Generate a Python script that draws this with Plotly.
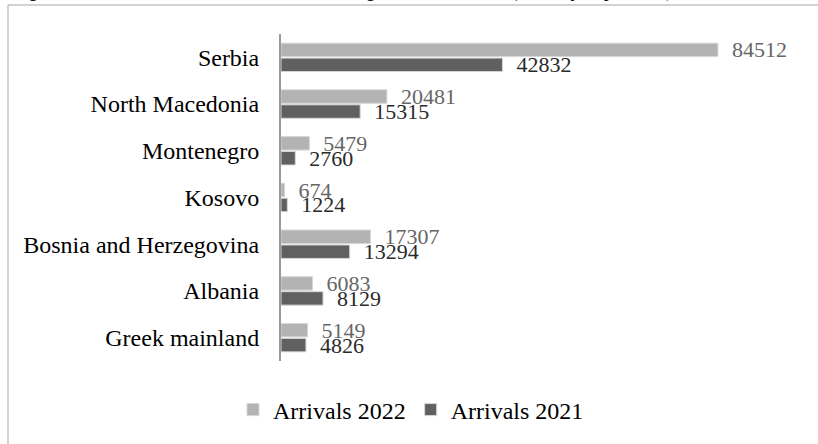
import plotly.graph_objects as go

countries = ["Serbia", "North Macedonia", "Montenegro", "Kosovo",
             "Bosnia and Herzegovina", "Albania", "Greek mainland"]
arrivals_2022 = [84512, 20481, 5479, 674, 17307, 6083, 5149]
arrivals_2021 = [42832, 15315, 2760, 1224, 13294, 8129, 4826]
series_names = ["Arrivals 2022", "Arrivals 2021"]
title_text = "Figure 5: Arrivals at the external borders along the Balkan route (January-September)"

W, H = 818, 444
L, R, T, B = 281, 20, 34, 83
pw, ph = W - L - R, H - T - B

def px_x(p):
    return (p - L) / pw

def px_y(p):
    return (H - B - p) / ph

font_family = "Liberation Serif, Times New Roman, serif"

fig = go.Figure()
fig.add_trace(go.Bar(
    y=countries, x=arrivals_2022, name=series_names[0], orientation="h",
    marker=dict(color="#b3b3b3", line=dict(color="#d6d6d6", width=1)),
    texttemplate="\u00a0\u00a0%{x:d}", textposition="outside",
    textfont=dict(family=font_family, size=22, color="#666666"),
    cliponaxis=False, constraintext="none",
))
fig.add_trace(go.Bar(
    y=countries, x=arrivals_2021, name=series_names[1], orientation="h",
    marker=dict(color="#606060", line=dict(color="#d6d6d6", width=1)),
    texttemplate="\u00a0\u00a0%{x:d}", textposition="outside",
    textfont=dict(family=font_family, size=22, color="#2a2a2a"),
    cliponaxis=False, constraintext="none",
))

fig.update_layout(
    width=W, height=H, autosize=False,
    margin=dict(l=L, r=R, t=T, b=B, pad=0),
    paper_bgcolor="white", plot_bgcolor="white",
    barmode="group", bargap=0.36, bargroupgap=0.1,
    font=dict(family=font_family, size=24, color="#000000"),
    showlegend=True,
    legend=dict(orientation="h", x=px_x(411), xanchor="center",
                y=px_y(410), yanchor="middle",
                font=dict(family=font_family, size=24, color="#000000"),
                bgcolor="rgba(0,0,0,0)", itemclick=False),
    xaxis=dict(range=[0, 100000], visible=False, showgrid=False, zeroline=False),
    yaxis=dict(autorange="reversed", showgrid=False, zeroline=False,
               showline=True, linecolor="#9a9a9a", linewidth=2,
               ticks="", ticklabelstandoff=15,
               tickfont=dict(family=font_family, size=24, color="#000000")),
    shapes=[
        dict(type="line", xref="paper", yref="paper",
             x0=px_x(8), x1=px_x(W + 5), y0=px_y(5), y1=px_y(5),
             line=dict(color="#a6a6a6", width=1)),
        dict(type="line", xref="paper", yref="paper",
             x0=px_x(8), x1=px_x(8), y0=px_y(5), y1=px_y(H + 5),
             line=dict(color="#a6a6a6", width=1)),
    ],
    annotations=[
        dict(text="<i>" + title_text + "</i>", xref="paper", yref="paper",
             x=px_x(10), y=px_y(4), xanchor="left", yanchor="bottom",
             showarrow=False,
             font=dict(family=font_family, size=19, color="#000000")),
    ],
)

fig.write_html("out.html",
               config={"displayModeBar": False},
               post_script="document.body.style.margin='0px';document.body.style.overflow='hidden';")
